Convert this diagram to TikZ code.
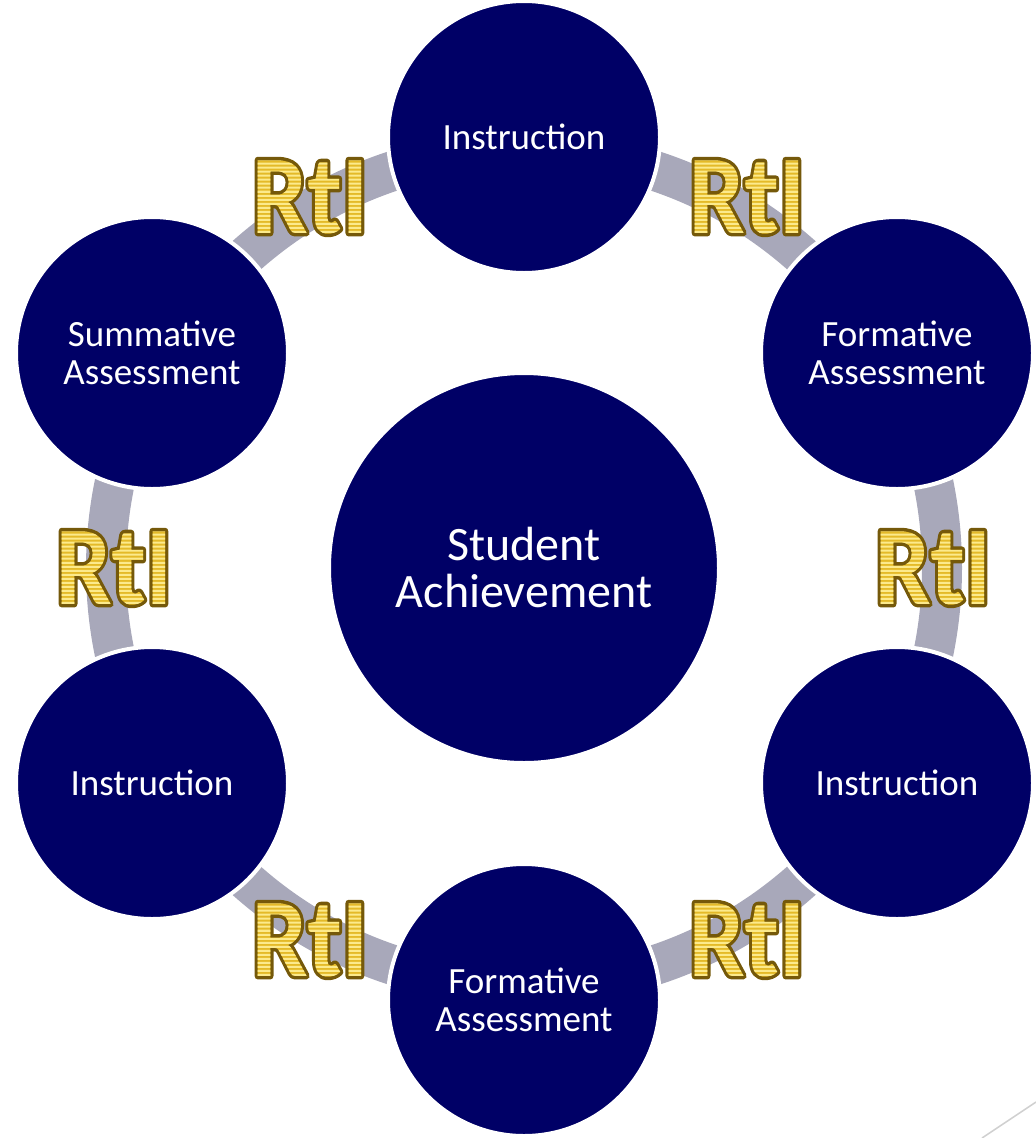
\documentclass[tikz,border=0pt]{standalone}
\usepackage{fontspec}
\setmainfont{Carlito}
\definecolor{navy}{RGB}{0,0,102}
\definecolor{ringgray}{RGB}{168,168,186}
\definecolor{rtigold}{RGB}{228,186,40}
\definecolor{decoline}{RGB}{208,208,208}
\tikzset{
  bubble/.style={circle, fill=navy, draw=white, line width=4pt, text=white,
    minimum size=272pt, inner sep=0pt, align=center,
    font=\fontsize{37}{38}\selectfont},
  hub/.style={bubble, minimum size=390pt, font=\fontsize{48}{47}\selectfont},
  rti/.style={inner sep=0pt, xscale=0.88, text=rtigold, font=\fontsize{112}{120}\selectfont\bfseries},
  ring/.style={draw=ringgray, line width=40pt}
}
\newcommand{\rtistripes}{-150 -8 170 2 re -150 -4 170 2 re -150 0 170 2 re
 -150 4 170 2 re -150 8 170 2 re -150 12 170 2 re -150 16 170 2 re
 -150 20 170 2 re -150 24 170 2 re -150 28 170 2 re -150 32 170 2 re
 -150 36 170 2 re -150 40 170 2 re -150 44 170 2 re -150 48 170 2 re
 -150 52 170 2 re -150 56 170 2 re -150 60 170 2 re -150 64 170 2 re
 -150 68 170 2 re -150 72 170 2 re -150 76 170 2 re -150 80 170 2 re
 -150 84 170 2 re -150 88 170 2 re}
\newcommand{\rtitext}{%
  \special{pdf:literal direct 6 Tr 7 w 1 j 0.46 0.35 0.04 RG}RtI%
  \special{pdf:content 0.894 0.729 0.157 rg -150 -10 170 110 re f 0.988 0.918 0.55 rg \rtistripes\space f}%
  \special{pdf:literal direct 0 Tr}}
\begin{document}
\begin{tikzpicture}[x=1pt, y=-1pt]
\useasboundingbox (0,0) rectangle (1036,1138);
\coordinate (c) at (524,568);
\draw[ring] (c) circle (418pt);
\node[hub] (sa) at (c) {Student\\Achievement};
\node[bubble] (i1) at (524,137) {Instruction};
\node[bubble] (f1) at (897,353) {Formative\\Assessment};
\node[bubble] (i2) at (897,783) {Instruction};
\node[bubble] (f2) at (524,1000) {Formative\\Assessment};
\node[bubble] (i3) at (152,783) {Instruction};
\node[bubble] (s1) at (152,353) {Summative\\Assessment};
\node[rti] (r1) at (310,197) {\rtitext};
\node[rti] (r2) at (747,197) {\rtitext};
\node[rti] (r3) at (933,568) {\rtitext};
\node[rti] (r4) at (747,940) {\rtitext};
\node[rti] (r5) at (310,940) {\rtitext};
\node[rti] (r6) at (114,568) {\rtitext};
\coordinate (d1) at (982,1138);
\coordinate (d2) at (1036,1102);
\draw[decoline, line width=1.5pt] (d1) -- (d2);
\end{tikzpicture}
\end{document}
